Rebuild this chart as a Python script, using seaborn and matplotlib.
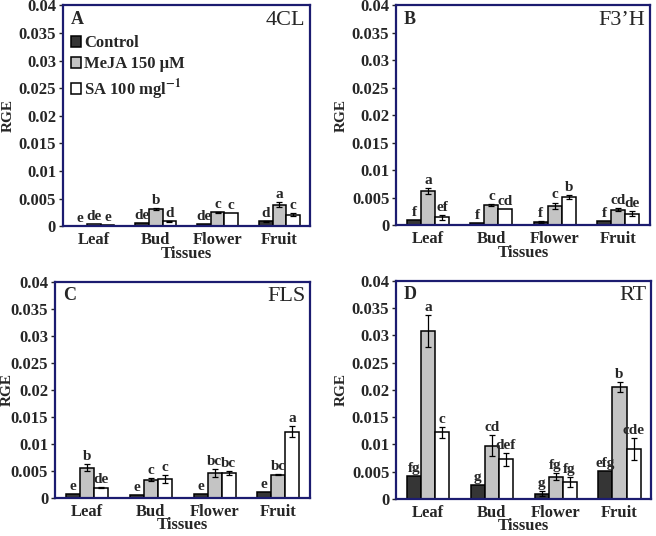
import numpy as np
import pandas as pd
import matplotlib
matplotlib.use("Agg")
import matplotlib.pyplot as plt
from matplotlib.patches import Patch
import seaborn as sns

sns.set_style("white")
plt.rcParams['font.family'] = ['Liberation Serif', 'DejaVu Serif']
plt.rcParams['mathtext.fontset'] = 'stix'

tissues = ["Leaf", "Bud", "Flower", "Fruit"]
treatments = ["Control", "MeJA 150 μM", "SA 100 mgl$^{\\mathbf{-1}}$"]

# values per treatment, order: Leaf, Bud, Flower, Fruit
cl4_ctrl = [0.0001, 0.0005, 0.0004, 0.0009]
cl4_meja = [0.0004, 0.0031, 0.0025, 0.0039]
cl4_sa = [0.0002, 0.0009, 0.0023, 0.0021]
cl4_err_ctrl = [0.0, 0.0, 0.0, 0.0001]
cl4_err_meja = [0.0, 0.0002, 0.0001, 0.0004]
cl4_err_sa = [0.0, 0.0001, 0.0, 0.0002]
cl4_letters = [["e", "de", "de", "d"], ["de", "b", "c", "a"], ["e", "d", "c", "c"]]

f3h_ctrl = [0.0009, 0.0004, 0.0006, 0.0008]
f3h_meja = [0.0062, 0.0036, 0.0035, 0.0028]
f3h_sa = [0.0014, 0.0030, 0.0051, 0.0021]
f3h_err_ctrl = [0.0, 0.0, 0.0002, 0.0]
f3h_err_meja = [0.0005, 0.0002, 0.0006, 0.0003]
f3h_err_sa = [0.0004, 0.0, 0.0004, 0.0005]
f3h_letters = [["f", "f", "f", "f"], ["a", "c", "c", "cd"], ["ef", "cd", "b", "de"]]

fls_ctrl = [0.0008, 0.0005, 0.0008, 0.0011]
fls_meja = [0.0056, 0.0034, 0.0046, 0.0043]
fls_sa = [0.0019, 0.0035, 0.0046, 0.0123]
fls_err_ctrl = [0.0, 0.0, 0.0, 0.0]
fls_err_meja = [0.0006, 0.0003, 0.0008, 0.0001]
fls_err_sa = [0.0001, 0.0007, 0.0003, 0.0011]
fls_letters = [["e", "e", "e", "e"], ["b", "c", "bc", "bc"], ["de", "c", "bc", "a"]]

rt_ctrl = [0.0042, 0.0026, 0.0010, 0.0051]
rt_meja = [0.0308, 0.0098, 0.0041, 0.0206]
rt_sa = [0.0122, 0.0073, 0.0031, 0.0092]
rt_err_ctrl = [0.0, 0.0, 0.0004, 0.0]
rt_err_meja = [0.0030, 0.0020, 0.0007, 0.0009]
rt_err_sa = [0.0010, 0.0012, 0.0009, 0.0020]
rt_letters = [["fg", "g", "g", "efg"], ["a", "cd", "fg", "b"], ["c", "def", "fg", "cde"]]

colors = ["#353535", "#c4c4c4", "#ffffff"]
spine_col = "#1c1c70"

# tag, gene, values, errors, letters, axes rect, x of the RGE label (figure px)
panels = [
    ("A", "4CL", [cl4_ctrl, cl4_meja, cl4_sa], [cl4_err_ctrl, cl4_err_meja, cl4_err_sa], cl4_letters, [0.096, 0.578, 0.377, 0.412], 15),
    ("B", "F3\u2019H", [f3h_ctrl, f3h_meja, f3h_sa], [f3h_err_ctrl, f3h_err_meja, f3h_err_sa], f3h_letters, [0.604, 0.580, 0.387, 0.410], 348),
    ("C", "FLS", [fls_ctrl, fls_meja, fls_sa], [fls_err_ctrl, fls_err_meja, fls_err_sa], fls_letters, [0.084, 0.071, 0.389, 0.403], 14),
    ("D", "RT", [rt_ctrl, rt_meja, rt_sa], [rt_err_ctrl, rt_err_meja, rt_err_sa], rt_letters, [0.604, 0.069, 0.389, 0.407], 348),
]

fig = plt.figure(figsize=(6.56, 5.36), dpi=100)

for tag, gene, vals, errs, letters, pos, lab_x in panels:
    ax = fig.add_axes(pos)
    rows = []
    for t, v in zip(treatments, vals):
        for tis, val in zip(tissues, v):
            rows.append({"Tissue": tis, "Treatment": t, "RGE": val})
    df = pd.DataFrame(rows)
    sns.barplot(data=df, x="Tissue", y="RGE", hue="Treatment", hue_order=treatments,
                palette=colors, width=0.66, errorbar=None, edgecolor="black",
                linewidth=1.1, ax=ax, legend=False)

    # error bars and letters, one hue group at a time
    for k in range(3):
        bars = ax.patches[k * 4:(k + 1) * 4]
        for j, b in enumerate(bars):
            xc = b.get_x() + b.get_width() / 2
            h = b.get_height()
            e = errs[k][j]
            if e > 0:
                ax.errorbar(xc, h, yerr=e, fmt="none", ecolor="black", elinewidth=0.9, capsize=2.5, capthick=0.9)
            ax.text(xc, h + e + 0.0002, letters[k][j], ha="center", va="bottom",
                    fontsize=11, fontweight="bold")

    ax.set_ylim(0, 0.04)
    ax.set_xlim(-0.5, 3.5)
    ax.set_yticks(np.arange(0, 0.0401, 0.005))
    ax.set_yticklabels(["0", "0.005", "0.01", "0.015", "0.02", "0.025", "0.03", "0.035", "0.04"])
    for lab in ax.get_yticklabels():
        lab.set_fontweight("bold")
        lab.set_fontsize(12)
    for lab in ax.get_xticklabels():
        lab.set_fontweight("bold")
        lab.set_fontsize(12)
    ax.tick_params(axis="y", left=True, length=3, width=1, pad=2)
    ax.tick_params(axis="x", bottom=False, pad=1)
    ax.set_xlabel("Tissues", fontsize=12, fontweight="bold", labelpad=-2)
    ax.set_ylabel("RGE", fontsize=11, fontweight="bold")
    ax.yaxis.set_label_coords((lab_x / 656 - pos[0]) / pos[2], 0.5)
    for s in ax.spines.values():
        s.set_color(spine_col)
        s.set_linewidth(1.6)
    ax.text(0.03, 0.975, tag, transform=ax.transAxes, ha="left", va="top", fontsize=13, fontweight="bold")
    ax.text(0.98, 0.975, gene, transform=ax.transAxes, ha="right", va="top", fontsize=16)

    if tag == "A":
        handles = [Patch(facecolor=c, edgecolor="black", linewidth=1.1) for c in colors]
        ax.legend(handles, treatments, loc="upper left", bbox_to_anchor=(-0.01, 0.91),
                  frameon=False, prop={"weight": "bold", "size": 12},
                  handlelength=0.6, handleheight=0.6, handletextpad=0.2, labelspacing=0.3,
                  borderaxespad=0.2)

fig.savefig("out.png", dpi=100)
